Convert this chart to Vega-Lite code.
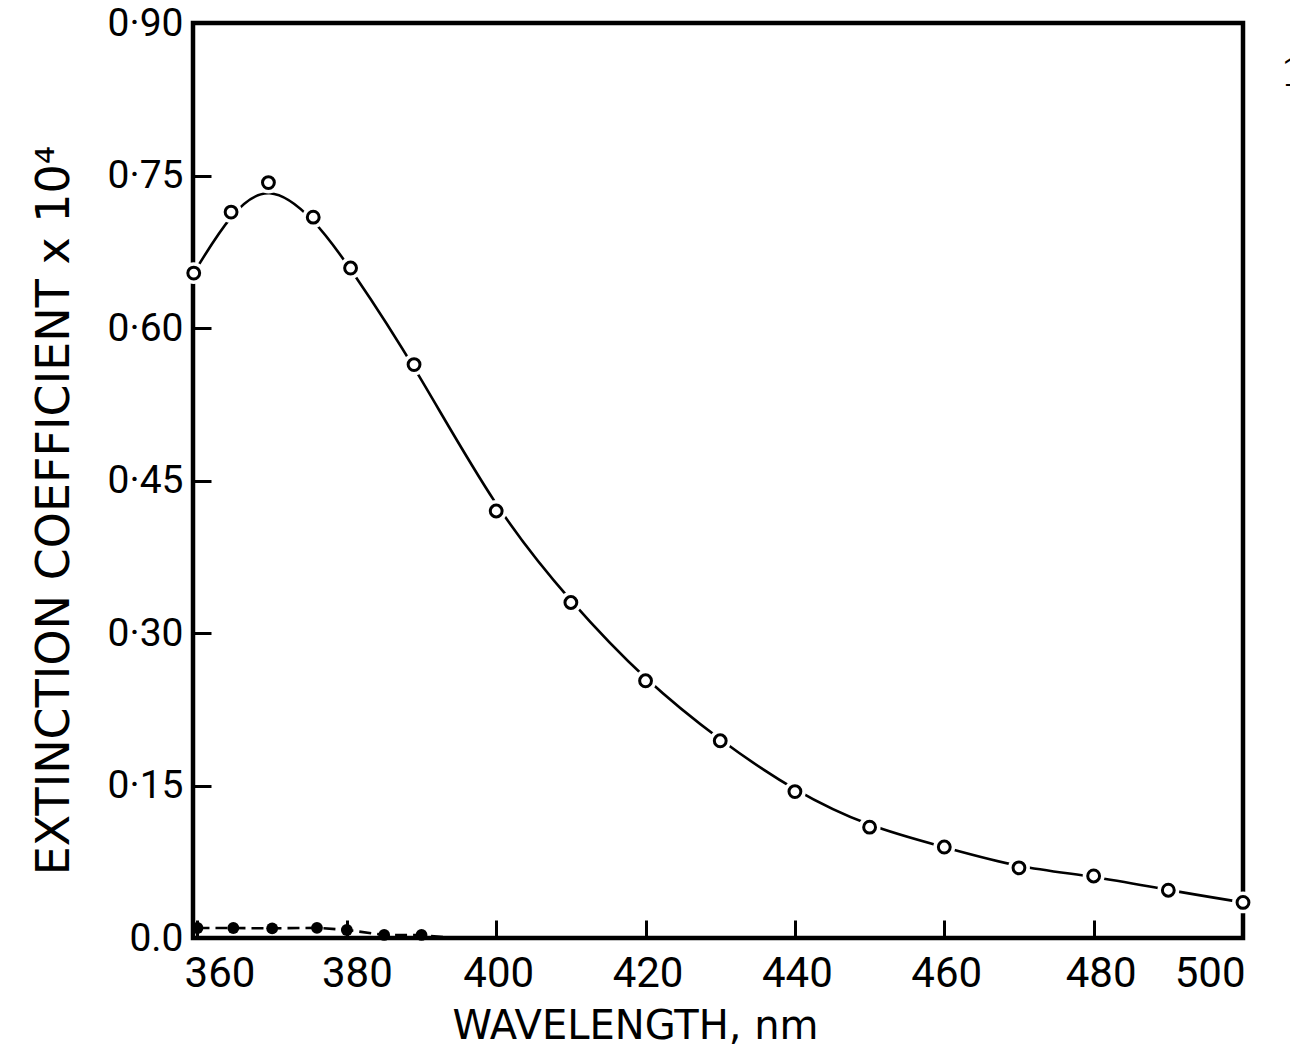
{
  "$schema": "https://vega.github.io/schema/vega-lite/v6.json",
  "width": 1050,
  "height": 915,
  "autosize": {"type": "none"},
  "padding": {"left": 193, "top": 23, "right": 47, "bottom": 110},
  "background": "white",
  "config": {
    "view": {"stroke": "black", "strokeWidth": 4.5},
    "axis": {
      "grid": false,
      "domain": false,
      "ticks": true,
      "tickColor": "black",
      "tickOpacity": 1,
      "tickWidth": 3,
      "tickSize": 18,
      "offset": -18,
      "zindex": 1,
      "labelColor": "black",
      "titleColor": "black",
      "labelFont": "Roboto",
      "titleFont": "DejaVu Sans",
      "titleFontWeight": "normal"
    }
  },
  "datasets": {
    "open": [
      {"wavelength": 359.5, "ext": 0.654},
      {"wavelength": 364.5, "ext": 0.714},
      {"wavelength": 369.5, "ext": 0.743},
      {"wavelength": 375.5, "ext": 0.709},
      {"wavelength": 380.5, "ext": 0.659},
      {"wavelength": 389, "ext": 0.564},
      {"wavelength": 400, "ext": 0.42},
      {"wavelength": 410, "ext": 0.33},
      {"wavelength": 420, "ext": 0.253},
      {"wavelength": 430, "ext": 0.194},
      {"wavelength": 440, "ext": 0.144},
      {"wavelength": 450, "ext": 0.109},
      {"wavelength": 460, "ext": 0.0895},
      {"wavelength": 470, "ext": 0.069},
      {"wavelength": 480, "ext": 0.061},
      {"wavelength": 490, "ext": 0.047},
      {"wavelength": 500, "ext": 0.035}
    ],
    "filled": [
      {"wavelength": 360, "ext": 0.0098},
      {"wavelength": 364.8, "ext": 0.0098},
      {"wavelength": 370, "ext": 0.0095},
      {"wavelength": 376, "ext": 0.0100},
      {"wavelength": 380, "ext": 0.0079},
      {"wavelength": 385, "ext": 0.003},
      {"wavelength": 390, "ext": 0.003}
    ],
    "filledLine": [
      {"wavelength": 360, "ext": 0.0098},
      {"wavelength": 364.8, "ext": 0.0098},
      {"wavelength": 370, "ext": 0.0095},
      {"wavelength": 376, "ext": 0.0100},
      {"wavelength": 380, "ext": 0.0079},
      {"wavelength": 385, "ext": 0.003},
      {"wavelength": 390, "ext": 0.003},
      {"wavelength": 394, "ext": 0.0}
    ],
    "label": [
      {"wavelength": 505, "ext": 0.85, "text": "1"}
    ]
  },
  "encoding": {
    "x": {
      "field": "wavelength",
      "type": "quantitative",
      "scale": {"domain": [359.4, 500], "nice": false, "zero": false},
      "axis": {
        "values": [360, 380, 400, 420, 440, 460, 480, 500],
        "labelFontSize": 42,
        "labelPadding": 15,
        "labelOffset": {
          "condition": [
            {"test": "datum.value == 360", "value": 22},
            {"test": "datum.value == 380", "value": 10},
            {"test": "datum.value == 480", "value": 7}
          ],
          "value": 2
        },
        "title": "WAVELENGTH, nm",
        "titleFontSize": 40,
        "titleX": 442,
        "titleY": 118,
        "titleBaseline": "alphabetic",
        "titleAlign": "center"
      }
    },
    "y": {
      "field": "ext",
      "type": "quantitative",
      "scale": {"domain": [0, 0.9], "nice": false},
      "axis": {
        "values": [0, 0.15, 0.3, 0.45, 0.6, 0.75, 0.9],
        "labelExpr": "datum.value == 0 ? '0.0' : replace(format(datum.value, '.2f'), '.', '·')",
        "labelFontSize": 39,
        "labelPadding": 10,
        "title": "EXTINCTION COEFFICIENT x 10⁴",
        "titleFontSize": 46,
        "titleX": -143,
        "titleY": 487,
        "titleBaseline": "alphabetic",
        "titleAlign": "center",
        "titleAngle": -90
      }
    }
  },
  "layer": [
    {
      "data": {"name": "open"},
      "mark": {"type": "line", "color": "black", "strokeWidth": 2.6, "interpolate": "basis"},
      "encoding": {}
    },
    {
      "data": {"name": "open"},
      "mark": {"type": "point", "shape": "circle", "filled": true, "color": "white", "opacity": 1, "size": 480},
      "encoding": {}
    },
    {
      "data": {"name": "open"},
      "mark": {"type": "point", "shape": "circle", "filled": false, "fill": "white", "stroke": "black", "strokeWidth": 3, "opacity": 1, "size": 140},
      "encoding": {}
    },
    {
      "data": {"name": "filledLine"},
      "mark": {"type": "line", "color": "black", "strokeWidth": 2.6, "strokeDash": [12, 6]},
      "encoding": {}
    },
    {
      "data": {"name": "filled"},
      "mark": {"type": "point", "shape": "circle", "filled": true, "color": "black", "opacity": 1, "size": 140},
      "encoding": {}
    },
    {
      "data": {"name": "label"},
      "mark": {"type": "text", "font": "DejaVu Serif", "fontSize": 40, "color": "black", "align": "left", "baseline": "middle"},
      "encoding": {"text": {"field": "text"}}
    }
  ]
}
